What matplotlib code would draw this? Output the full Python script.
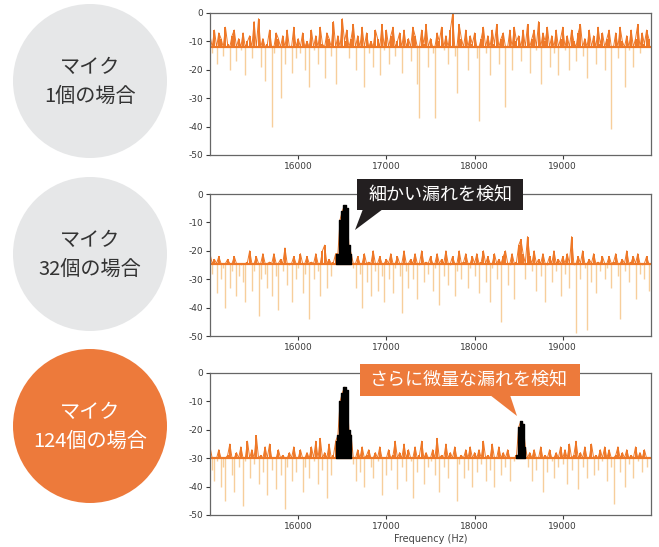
import numpy as np
import matplotlib
matplotlib.use('Agg')
import matplotlib.pyplot as plt
from matplotlib.patches import Circle, Rectangle, Polygon

plt.rcParams['font.family'] = ['Noto Sans CJK JP', 'DejaVu Sans']
plt.rcParams['axes.unicode_minus'] = False

#%% データ (25 Hz 間隔, 15000 ~ 19975 Hz)
freq = np.arange(15000, 20000, 25)

# マイク 1個
spec_1 = [
    -8, -14, -6, -18, -7, -9, -15, -5, -11, -20, -8, -6, -17, -9, -13, -7, -22, -10, -8, -16,
    -3, -12, -2, -19, -9, -24, -11, -6, -40, -14, -7, -9, -30, -8, -18, -6, -12, -21, -5, -16,
    -9, -14, -7, -20, -10, -26, -6, -13, -8, -18, -5, -11, -23, -7, -9, -15, -3, -25, -8, -12,
    -2, -10, -6, -16, -9, -4, -20, -8, -12, -5, -26, -7, -14, -10, -19, -6, -9, -22, -4, -13,
    -6, -18, -8, -5, -15, -10, -7, -21, -6, -12, -9, -17, -5, -8, -25, -37, -6, -11, -4, -19,
    -9, -14, -37, -7, -10, -5, -13, -8, -18, -6, -0.5, -15, -28, -4, -9, -12, -6, -20, -8, -11,
    -7, -16, -38, -9, -5, -14, -8, -22, -6, -11, -4, -18, -9, -7, -33, -12, -6, -20, -5, -10,
    -8, -17, -6, -12, -4, -21, -9, -6, -13, -3, -25, -7, -10, -5, -19, -8, -14, -6, -22, -9,
    -5, -13, -8, -20, -6, -10, -17, -7, -4, -15, -9, -23, -6, -12, -8, -18, -5, -11, -7, -20,
    -9, -6, -41, -12, -7, -16, -5, -10, -26, -8, -13, -6, -19, -9, -4, -14, -7, -11, -6, -9,
]

# マイク 32個
spec_32 = [
    -21, -28, -23, -35, -22, -30, -26, -40, -23, -33, -27, -22, -36, -29, -25, -31, -38, -24, -20, -34,
    -27, -22, -43, -30, -21, -28, -33, -24, -36, -21, -29, -41, -23, -27, -19, -32, -25, -38, -22, -30,
    -26, -21, -35, -28, -22, -44, -24, -30, -21, -27, -36, -20, -18, -33, -23, -29, -24, -21, -21, -9,
    -6, -4, -5, -18, -21, -26, -33, -22, -28, -40, -21, -31, -24, -36, -20, -27, -34, -22, -29, -38,
    -23, -30, -21, -35, -26, -22, -29, -42, -20, -27, -33, -23, -30, -21, -37, -25, -20, -31, -24, -28,
    -22, -34, -26, -21, -39, -23, -29, -20, -32, -25, -22, -36, -27, -20, -30, -24, -21, -33, -26, -22,
    -29, -21, -35, -24, -20, -31, -22, -38, -26, -21, -30, -23, -45, -22, -20, -32, -25, -21, -37, -24,
    -18, -16, -21, -30, -15, -22, -27, -20, -34, -23, -29, -21, -38, -25, -22, -31, -20, -27, -23, -36,
    -22, -28, -21, -33, -15, -25, -49, -22, -30, -20, -26, -48, -23, -31, -21, -35, -24, -27, -22, -30,
    -26, -22, -33, -24, -21, -29, -44, -23, -27, -20, -31, -24, -22, -37, -21, -28, -25, -30, -22, -34,
]

# マイク 124個
spec_124 = [
    -26, -34, -38, -31, -27, -40, -33, -45, -29, -25, -36, -42, -28, -33, -26, -47, -31, -24, -37, -27,
    -32, -22, -39, -29, -35, -26, -43, -25, -34, -30, -41, -27, -36, -29, -48, -33, -28, -38, -26, -35,
    -30, -27, -42, -33, -28, -37, -26, -31, -24, -39, -23, -34, -28, -44, -25, -36, -29, -24, -22, -10,
    -7, -5, -6, -20, -22, -32, -38, -27, -35, -26, -40, -29, -27, -33, -37, -28, -31, -26, -43, -30,
    -36, -27, -34, -29, -24, -41, -28, -33, -25, -38, -27, -31, -44, -26, -35, -29, -24, -39, -28, -33,
    -31, -27, -36, -23, -42, -29, -33, -25, -37, -28, -30, -26, -45, -32, -29, -37, -27, -34, -26, -40,
    -28, -35, -27, -32, -24, -38, -29, -34, -25, -40, -30, -26, -36, -28, -33, -27, -38, -30, -31, -29,
    -19, -17, -18, -26, -33, -28, -38, -27, -34, -30, -26, -42, -29, -35, -27, -31, -37, -28, -33, -26,
    -32, -27, -39, -25, -34, -29, -24, -41, -28, -33, -26, -37, -30, -25, -36, -29, -34, -27, -31, -26,
    -38, -27, -33, -46, -29, -26, -35, -28, -40, -27, -32, -29, -37, -26, -31, -28, -35, -27, -33, -30,
]

spectra = [spec_1, spec_32, spec_124]
floors = [-12, -24.5, -30]                       # 노이즈 하한 (dB)
leak_ranges = [[], [(16425, 16600)], [(16425, 16600), (18475, 18575)]]

circle_labels = [('マイク', '1個の場合'), ('マイク', '32個の場合'), ('マイク', '124個の場合')]
callouts = ['細かい漏れを検知', 'さらに微量な漏れを検知']

#%% 색상
c_dark = '#ee7726'
c_light = '#f6c68a'
c_gray = '#e6e7e8'
c_orange = '#ed7a3b'

W, H = 659, 547
fig = plt.figure(figsize=(W / 100, H / 100), dpi=100)

# 패널 위치 (pixel)
panel_top = [13, 194, 373]
panel_h = 142
left, right = 210, 651

for i in range(3):
    ax = fig.add_axes([left / W, 1 - (panel_top[i] + panel_h) / H, (right - left) / W, panel_h / H])
    y = np.array(spectra[i], dtype=float)
    fl = floors[i]
    y_clip = np.maximum(y, fl)
    y_low = np.minimum(y, fl)

    # 하한 아래 (연한 색)
    ax.vlines(freq, y_low, fl, color=c_light, linewidth=1.0, alpha=0.85, zorder=1)
    # 하한 위 (진한 색)
    ax.vlines(freq, fl, y_clip, color=c_dark, linewidth=1.4, zorder=2)
    ax.plot(freq, y_clip, color=c_dark, linewidth=0.7, zorder=2)
    ax.axhline(fl, color=c_dark, linewidth=1.6, zorder=2)

    for f0, f1 in leak_ranges[i]:
        mask = (freq >= f0) & (freq <= f1)
        ax.fill_between(freq, fl, y_clip, where=mask, color='k', step='mid', zorder=3)

    ax.set_xlim(15000, 20000)
    ax.set_ylim(-50, 0)
    ax.set_yticks([0, -10, -20, -30, -40, -50])
    ax.set_xticks([16000, 17000, 18000, 19000])
    ax.tick_params(labelsize=6.5, length=3, width=0.8, colors='#3a3a3a', pad=2)
    for s in ax.spines.values():
        s.set_color('#666666')
        s.set_linewidth(0.9)
    for lab in ax.get_xticklabels() + ax.get_yticklabels():
        lab.set_family('DejaVu Sans')

    if i == 2:
        ax.set_xlabel('Frequency (Hz)', fontsize=7, color='#444444', labelpad=2, family='DejaVu Sans')

#%% 오버레이 (원, 말풍선)
ov = fig.add_axes([0, 0, 1, 1])
ov.set_xlim(0, W)
ov.set_ylim(H, 0)
ov.axis('off')

circle_y = [81, 254, 426]
for i in range(3):
    fc = c_orange if i == 2 else c_gray
    tc = 'white' if i == 2 else '#333333'
    ov.add_patch(Circle((90, circle_y[i]), 77, facecolor=fc, edgecolor='none'))
    ov.text(90, circle_y[i] - 14, circle_labels[i][0], ha='center', va='center', fontsize=14.5, color=tc)
    ov.text(90, circle_y[i] + 15, circle_labels[i][1], ha='center', va='center', fontsize=14.5, color=tc)

# 말풍선 1
ov.add_patch(Rectangle((357, 179), 166, 31, facecolor='#231f20', edgecolor='none'))
ov.add_patch(Polygon([(363, 209), (383, 209), (355, 230)], closed=True, facecolor='#231f20', edgecolor='none'))
ov.text(440, 194.5, callouts[0], ha='center', va='center', fontsize=13, color='white')

# 말풍선 2
ov.add_patch(Rectangle((360, 364), 220, 32, facecolor=c_orange, edgecolor='none'))
ov.add_patch(Polygon([(490, 395), (510, 395), (517, 416)], closed=True, facecolor=c_orange, edgecolor='none'))
ov.text(468, 380, callouts[1], ha='center', va='center', fontsize=13, color='white')

plt.savefig('out.png', dpi=100)
